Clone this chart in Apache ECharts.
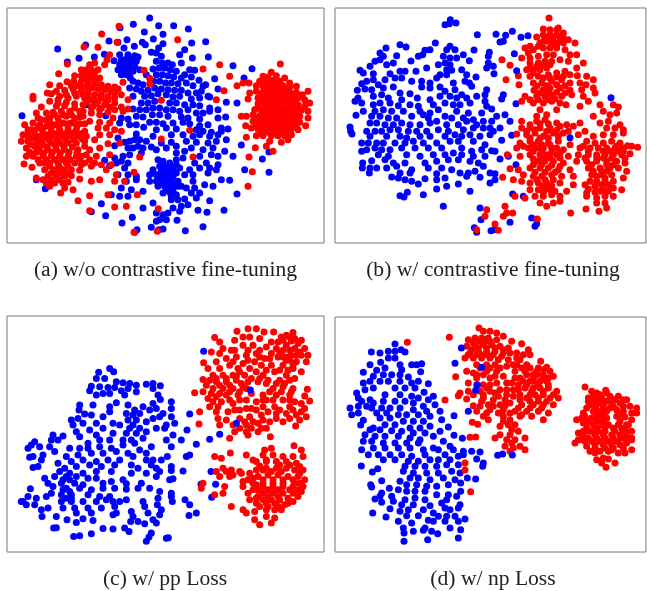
<!DOCTYPE html>
<html><head><meta charset="utf-8">
<script src="https://cdn.jsdelivr.net/npm/echarts@6/dist/echarts.min.js"></script>
<style>html,body{margin:0;padding:0;background:#fff}#c{width:647px;height:591px}</style>
</head><body><div id="c"></div>
<script>
const captions=["(a) w/o contrastive fine-tuning","(b) w/ contrastive fine-tuning","(c) w/ pp Loss","(d) w/ np Loss"];
const aBlue=[[450,55],[401,74],[477,78],[522,78],[566,88],[361,84],[434,97],[490,104],[461,118],[382,120],[328,124],[355,128],[258,136],[174,148],[618,126],[576,130],[428,128],[437,135],[490,132],[477,145],[373,145],[404,140],[555,150],[540,165],[626,172],[578,175],[284,172],[314,164],[238,176],[203,187],[343,183],[360,165],[385,165],[405,168],[470,160],[455,158],[485,170],[415,172],[365,180],[380,178],[395,180],[410,185],[360,195],[375,195],[390,195],[405,200],[355,210],[370,210],[385,210],[400,215],[365,225],[380,225],[392,235],[420,210],[470,185],[488,190],[505,190],[518,195],[545,190],[460,208],[478,205],[495,205],[512,210],[530,215],[570,210],[585,212],[555,225],[700,198],[757,207],[440,225],[470,225],[488,225],[505,228],[522,232],[545,235],[575,232],[598,242],[645,237],[618,255],[733,235],[400,245],[415,250],[430,255],[462,245],[480,245],[498,250],[515,250],[535,252],[560,250],[580,258],[610,260],[655,268],[390,265],[410,268],[425,275],[445,272],[465,265],[485,268],[505,270],[525,272],[545,272],[565,280],[590,280],[605,275],[625,290],[400,290],[435,290],[455,288],[475,282],[500,285],[520,292],[540,290],[575,298],[600,295],[630,292],[680,308],[712,310],[425,310],[445,310],[465,305],[510,310],[530,310],[555,315],[580,315],[600,318],[630,325],[655,330],[260,315],[400,328],[420,330],[440,330],[460,325],[480,325],[500,330],[520,330],[540,335],[565,330],[590,340],[610,340],[630,335],[318,348],[365,355],[385,358],[410,350],[430,352],[458,345],[480,345],[505,350],[545,352],[565,355],[600,358],[655,355],[678,352],[360,370],[390,375],[410,375],[450,368],[470,368],[490,372],[520,370],[550,368],[570,372],[600,378],[625,375],[665,385],[432,383],[470,390],[500,385],[530,388],[590,390],[610,395],[635,398],[655,405],[685,388],[355,415],[410,403],[460,410],[515,405],[550,405],[580,410],[600,405],[630,410],[665,395],[345,438],[375,428],[390,425],[405,420],[420,420],[440,425],[485,430],[515,428],[560,425],[590,428],[625,430],[650,425],[680,420],[725,436],[385,445],[400,445],[415,440],[430,445],[455,442],[470,450],[500,445],[530,440],[575,445],[610,450],[640,445],[675,455],[345,475],[370,470],[390,465],[425,460],[530,460],[555,455],[600,470],[635,465],[655,470],[700,470],[808,457],[788,478],[315,482],[350,490],[365,485],[385,490],[475,480],[490,485],[510,490],[530,480],[550,475],[585,490],[620,490],[655,495],[330,498],[375,505],[460,510],[480,500],[500,505],[520,510],[540,505],[570,510],[600,505],[630,505],[650,510],[735,510],[808,518],[355,525],[385,525],[410,530],[450,525],[470,525],[490,525],[510,525],[530,520],[555,525],[580,525],[625,520],[380,545],[410,540],[450,545],[470,545],[495,545],[515,540],[535,545],[580,545],[615,555],[665,540],[690,542],[365,565],[395,570],[430,575],[475,560],[495,560],[515,560],[535,560],[560,565],[585,565],[640,560],[335,585],[360,590],[490,580],[510,578],[530,585],[575,580],[600,580],[712,583],[385,590],[460,610],[515,600],[535,600],[555,598],[590,595],[630,603],[305,612],[430,625],[520,625],[545,620],[565,615],[275,636],[318,648],[470,640],[490,645],[505,640],[540,635],[595,632],[622,638],[673,632],[480,660],[500,660],[532,662],[398,653],[470,665],[367,670],[455,683],[478,690],[490,688],[610,681],[557,693],[412,690],[405,698],[67,348],[110,540],[137,567],[370,188],[385,188],[398,190],[365,203],[380,203],[395,205],[375,218],[390,220],[485,515],[500,515],[515,515],[480,535],[500,535],[520,530],[485,552],[505,552],[525,552],[500,570],[520,570],[490,495],[510,498],[530,495],[545,560],[515,590]];
const aRed=[[358,80],[306,103],[534,120],[352,128],[295,143],[253,142],[203,193],[660,195],[610,208],[690,230],[842,193],[330,165],[322,180],[315,195],[285,190],[270,195],[245,210],[260,210],[275,210],[295,210],[225,228],[245,228],[262,228],[282,228],[300,235],[177,222],[202,246],[222,245],[245,245],[265,245],[285,250],[305,255],[325,260],[345,262],[150,255],[180,258],[258,262],[275,265],[295,268],[315,270],[335,275],[355,268],[370,248],[143,280],[155,282],[170,275],[195,272],[220,268],[245,275],[265,280],[285,285],[305,285],[325,290],[345,295],[365,285],[100,290],[100,298],[150,305],[175,300],[205,295],[230,290],[255,295],[275,300],[295,305],[320,305],[345,310],[385,300],[125,322],[170,320],[195,318],[225,312],[250,315],[280,320],[305,325],[330,322],[365,322],[385,328],[110,340],[140,340],[160,338],[185,335],[210,335],[240,335],[275,340],[300,345],[340,355],[370,335],[75,375],[100,370],[125,360],[150,355],[175,355],[200,350],[225,355],[250,350],[270,365],[300,368],[330,370],[95,390],[115,385],[140,380],[165,375],[190,370],[215,370],[240,372],[295,385],[320,385],[345,390],[365,395],[70,405],[85,405],[105,405],[130,400],[155,395],[180,390],[205,390],[230,390],[255,395],[300,405],[330,405],[65,425],[85,425],[110,420],[135,415],[160,410],[185,410],[210,410],[235,410],[260,410],[285,420],[325,432],[80,445],[105,440],[130,435],[155,430],[180,430],[205,430],[230,430],[255,425],[120,455],[145,450],[170,450],[195,450],[235,450],[300,445],[100,470],[130,470],[155,468],[180,470],[205,470],[230,470],[260,465],[290,470],[330,465],[73,493],[97,503],[120,490],[150,490],[175,490],[200,490],[225,490],[255,490],[285,490],[305,495],[335,495],[135,510],[165,510],[190,510],[215,510],[240,512],[275,500],[320,510],[110,535],[145,530],[170,530],[195,530],[215,528],[240,538],[275,545],[300,540],[345,545],[350,525],[140,550],[165,550],[190,550],[205,548],[375,545],[150,560],[195,565],[220,570],[183,580],[270,588],[325,585],[235,603],[413,585],[345,622],[380,620],[270,633],[476,627],[403,518],[420,472],[485,418],[570,392],[580,472],[485,302],[433,212],[450,236],[450,252],[403,698],[473,695],[815,218],[790,230],[805,232],[830,228],[855,235],[780,245],[800,245],[820,242],[840,245],[870,250],[712,258],[730,250],[748,250],[770,258],[790,260],[810,258],[830,258],[850,258],[870,262],[890,260],[750,280],[770,275],[790,278],[810,275],[830,275],[850,275],[870,278],[890,278],[908,285],[925,275],[745,298],[775,295],[795,295],[815,295],[835,295],[855,295],[875,295],[895,295],[915,300],[930,310],[775,312],[795,312],[815,312],[835,312],[855,312],[875,312],[895,315],[915,320],[765,330],[785,330],[805,330],[825,330],[845,330],[865,330],[885,330],[905,332],[925,335],[725,350],[740,350],[760,345],[780,348],[800,348],[820,348],[840,348],[860,348],[880,348],[900,350],[925,355],[738,378],[760,365],[780,368],[800,368],[820,368],[840,368],[860,368],[880,368],[900,368],[918,378],[755,385],[775,388],[795,388],[815,388],[835,388],[855,388],[875,388],[895,390],[740,413],[770,408],[790,408],[815,408],[835,408],[855,408],[875,405],[810,425],[845,428],[865,420],[767,444],[800,440],[820,455],[748,472],[758,516],[745,560],[673,273],[650,300],[360,430],[145,405],[170,402],[195,402],[220,400],[245,402],[125,428],[148,422],[172,420],[198,420],[222,420],[248,418],[118,445],[142,442],[168,440],[192,440],[218,442],[132,460],[158,458],[182,460],[208,458],[232,460],[140,480],[165,480],[190,480],[212,480],[240,478],[150,500],[178,500],[205,500],[155,520],[180,520],[205,520],[130,540],[155,540],[180,540],[265,255],[285,262],[305,262],[325,268],[345,280],[262,290],[282,295],[305,295],[325,300],[262,308],[290,312],[315,315],[240,258],[255,235],[272,235],[290,240],[252,218],[268,218],[285,218],[785,285],[805,285],[825,285],[845,285],[865,285],[885,287],[785,304],[805,304],[825,304],[845,304],[865,304],[885,304],[775,322],[795,322],[815,322],[835,322],[855,322],[875,322],[895,322],[790,340],[810,340],[830,340],[850,340],[870,340],[890,340],[770,358],[790,358],[810,358],[830,358],[850,358],[870,358],[890,358],[770,378],[790,378],[810,378],[830,378],[850,378],[870,378],[890,378],[785,398],[805,398],[825,398],[845,398],[865,398],[800,268],[820,266],[840,266],[860,268],[810,250],[830,250],[115,355],[140,360],[165,345],[190,345],[215,345],[240,352],[120,375],[150,368],[178,368],[205,372],[228,372],[255,372],[85,390],[105,392],[128,390],[155,382],[178,380],[205,380],[232,380],[85,415],[100,415],[120,410],[95,435],[115,432],[90,458],[110,458],[80,470],[115,480],[135,490],[255,440],[270,450],[245,470],[270,480],[245,495],[175,310],[200,308],[225,325],[250,335],[275,325],[200,285],[225,280],[250,285],[180,290],[300,330],[325,338],[345,330],[235,258],[215,258]];
const bBlue=[[361,60],[345,75],[358,72],[378,70],[442,105],[498,104],[527,107],[547,95],[573,113],[594,108],[510,127],[520,125],[316,130],[210,135],[228,142],[168,145],[360,140],[350,150],[375,150],[432,151],[478,158],[553,162],[150,160],[160,170],[150,180],[135,185],[120,200],[200,168],[190,190],[170,195],[265,170],[285,152],[300,150],[278,165],[243,184],[340,170],[360,175],[380,175],[400,165],[418,183],[475,170],[475,190],[490,200],[470,205],[345,190],[360,195],[325,195],[290,205],[90,212],[100,220],[350,210],[365,212],[395,210],[492,222],[130,222],[180,222],[210,215],[225,215],[258,215],[330,225],[350,225],[410,225],[438,232],[95,252],[110,245],[130,240],[145,255],[165,240],[195,235],[215,235],[245,245],[275,245],[320,235],[300,250],[370,250],[405,245],[418,250],[425,260],[82,272],[105,268],[125,270],[160,265],[190,262],[210,280],[240,282],[275,262],[300,265],[330,262],[345,275],[375,270],[395,285],[470,270],[465,285],[84,295],[75,305],[95,310],[130,290],[155,285],[175,295],[215,300],[262,295],[300,300],[330,290],[360,290],[380,295],[410,295],[440,290],[520,285],[515,298],[558,312],[100,335],[78,347],[130,315],[150,310],[180,310],[205,318],[240,315],[310,315],[345,310],[370,315],[390,315],[420,310],[465,305],[470,320],[135,335],[160,330],[185,335],[220,335],[265,320],[270,335],[300,340],[325,330],[380,335],[415,340],[455,340],[485,328],[525,345],[125,350],[150,350],[175,355],[200,355],[245,350],[280,345],[295,355],[345,350],[365,355],[400,355],[430,360],[460,365],[500,350],[485,365],[540,365],[60,382],[62,395],[66,403],[120,370],[140,370],[165,375],[190,375],[215,370],[240,375],[270,375],[300,370],[320,365],[350,375],[385,375],[410,365],[440,375],[480,385],[510,385],[110,395],[135,395],[155,395],[180,390],[205,390],[235,395],[260,395],[290,395],[325,390],[355,395],[400,390],[430,385],[460,385],[490,395],[545,407],[120,410],[170,410],[210,410],[230,415],[270,410],[300,410],[345,410],[375,405],[395,410],[420,405],[450,410],[480,405],[515,422],[95,430],[115,430],[140,430],[160,430],[195,430],[225,430],[250,425],[280,430],[320,430],[360,425],[385,425],[430,425],[465,435],[95,455],[110,450],[135,445],[155,450],[180,450],[215,445],[255,445],[295,445],[335,445],[370,460],[395,445],[425,455],[455,450],[485,453],[495,455],[535,470],[145,465],[175,470],[230,465],[270,470],[310,465],[345,465],[395,465],[430,470],[465,470],[510,478],[98,490],[125,483],[165,480],[190,490],[225,490],[285,490],[320,485],[355,480],[385,480],[420,485],[445,490],[97,505],[120,505],[140,505],[170,505],[200,500],[245,510],[295,505],[335,505],[365,510],[460,500],[558,495],[118,520],[210,520],[240,520],[320,522],[390,520],[415,520],[435,515],[480,520],[495,522],[185,532],[205,535],[225,540],[285,537],[320,540],[345,535],[410,530],[450,533],[480,550],[495,540],[265,553],[245,545],[385,553],[320,568],[350,560],[420,575],[232,578],[280,585],[210,588],[222,592],[548,583],[580,590],[340,620],[450,625],[453,660],[540,668],[605,655],[620,672],[615,680],[433,684],[440,698],[483,693],[492,690]];
const bRed=[[657,55],[516,180],[540,197],[528,240],[532,465],[540,507],[518,533],[555,590],[585,595],[722,640],[768,628],[807,635],[923,443],[640,88],[660,90],[685,85],[700,100],[620,112],[640,105],[660,105],[680,105],[700,115],[715,120],[630,130],[650,125],[670,125],[690,125],[735,130],[585,145],[610,150],[640,145],[660,145],[680,145],[705,150],[595,160],[720,165],[650,165],[670,165],[575,175],[600,175],[625,170],[740,165],[600,190],[625,190],[645,185],[665,185],[690,180],[715,185],[760,190],[590,210],[610,210],[630,210],[650,205],[740,205],[565,228],[600,230],[625,230],[655,225],[680,220],[705,215],[720,225],[770,230],[790,240],[742,228],[567,255],[610,250],[635,250],[665,245],[695,240],[720,250],[750,250],[768,255],[612,272],[640,270],[660,265],[690,265],[720,272],[755,270],[790,265],[795,280],[585,290],[620,290],[645,290],[665,285],[695,290],[725,285],[760,290],[575,305],[610,310],[640,310],[665,305],[690,310],[708,315],[750,320],[775,305],[810,315],[850,315],[865,322],[630,330],[680,330],[820,335],[860,340],[620,350],[650,345],[790,350],[840,345],[575,365],[620,365],[645,360],[680,370],[710,375],[750,370],[810,370],[835,365],[870,375],[575,385],[600,385],[630,385],[660,385],[690,380],[730,380],[765,395],[830,385],[855,385],[880,390],[560,403],[590,405],[615,400],[640,410],[670,400],[700,400],[745,405],[790,410],[820,405],[850,405],[880,400],[570,430],[600,425],[625,425],[655,430],[685,425],[720,435],[770,425],[795,430],[820,430],[845,425],[870,430],[893,438],[560,445],[595,445],[620,445],[640,445],[665,445],[700,450],[750,445],[780,445],[805,445],[830,445],[855,445],[880,445],[905,440],[570,470],[600,465],[630,465],[650,465],[680,465],[715,470],[745,465],[775,465],[800,465],[825,465],[850,465],[875,465],[900,462],[620,485],[645,485],[670,485],[700,490],[740,485],[770,485],[800,485],[830,485],[860,485],[885,490],[565,510],[600,505],[630,505],[655,505],[685,510],[720,510],[775,505],[810,505],[840,505],[865,505],[890,515],[550,540],[580,525],[610,530],[635,530],[665,525],[695,530],[730,530],[785,525],[815,525],[845,525],[880,535],[575,545],[600,550],[625,550],[650,550],[690,550],[730,555],[765,555],[800,545],[825,545],[850,545],[600,570],[625,570],[650,568],[675,575],[710,575],[770,580],[795,578],[820,570],[850,565],[875,570],[615,590],[640,590],[665,585],[690,590],[770,590],[800,595],[825,590],[850,590],[630,610],[650,620],[670,610],[690,605],[800,610],[825,610],[830,625],[470,630],[465,650],[525,620],[520,650],[530,640],[548,640],[495,673],[505,692],[440,690],[622,658],[820,455],[840,455],[865,455],[845,475],[820,475],[800,475],[830,495],[850,495],[815,515],[830,515],[825,535],[835,555],[815,555],[655,115],[670,112],[690,112],[665,135],[680,135],[650,115],[680,90],[640,125],[700,130],[600,140],[625,140],[600,205],[620,200],[640,195],[660,195],[610,220],[640,235],[660,235],[680,232],[700,230],[620,260],[650,258],[680,255],[705,258],[630,280],[655,280],[680,278],[705,280],[600,300],[625,300],[650,300],[675,298],[600,375],[630,372],[655,372],[590,395],[615,390],[650,395],[680,392],[600,415],[630,415],[655,415],[685,410],[715,395],[580,440],[610,435],[635,435],[660,435],[680,445],[610,455],[635,455],[665,458],[690,460],[610,478],[635,475],[660,475],[690,475],[610,495],[635,495],[665,497],[690,500],[615,518],[645,518],[675,518],[620,540],[645,540],[670,540],[640,560],[665,558],[640,578],[665,575],[760,440],[775,455],[765,475],[785,495],[790,515],[800,530],[780,545],[795,560],[775,568],[810,575],[835,575],[860,440],[880,455],[885,475]];
const bBlueTop=[[843,294],[720,414],[560,213]];
const cBlue=[[297,216],[330,205],[342,215],[290,235],[315,235],[350,245],[370,248],[390,250],[410,255],[440,252],[460,250],[482,257],[275,258],[300,260],[325,262],[345,262],[365,272],[385,265],[410,275],[460,265],[270,272],[290,285],[310,280],[330,280],[375,285],[475,285],[482,298],[350,308],[330,320],[280,315],[240,315],[515,305],[460,310],[470,325],[430,320],[385,315],[238,330],[330,335],[405,330],[420,340],[450,330],[515,325],[255,342],[275,345],[380,340],[400,345],[490,340],[515,350],[480,350],[570,342],[215,360],[235,355],[310,350],[385,360],[410,360],[460,355],[250,370],[290,370],[340,370],[360,375],[400,375],[440,365],[525,370],[500,375],[220,375],[310,385],[270,390],[390,385],[420,385],[470,385],[495,385],[520,405],[562,390],[160,405],[230,395],[240,410],[290,405],[340,400],[380,400],[410,400],[440,395],[545,420],[190,408],[155,420],[105,425],[95,435],[85,445],[175,420],[265,430],[300,420],[330,420],[370,420],[395,420],[430,415],[500,420],[590,433],[630,418],[120,440],[150,440],[210,445],[240,445],[265,445],[300,440],[335,445],[370,435],[405,430],[455,440],[515,440],[130,465],[90,472],[100,470],[165,455],[200,470],[235,465],[275,460],[310,460],[350,455],[385,460],[420,450],[440,460],[503,470],[560,470],[570,465],[125,480],[175,490],[215,485],[250,480],[290,485],[325,480],[360,480],[400,470],[440,480],[460,480],[485,480],[100,503],[115,500],[195,505],[230,500],[270,495],[305,500],[345,495],[395,495],[455,495],[515,500],[180,515],[210,520],[250,520],[290,515],[335,515],[415,505],[470,505],[480,515],[550,513],[634,515],[135,535],[165,530],[200,530],[230,530],[265,535],[290,535],[370,540],[395,520],[440,520],[470,530],[515,512],[520,537],[145,550],[185,550],[225,550],[250,555],[310,550],[335,545],[380,552],[425,550],[510,540],[604,553],[648,553],[92,567],[160,560],[200,565],[240,565],[275,570],[310,565],[345,565],[415,565],[450,565],[480,575],[515,580],[155,580],[185,585],[215,585],[265,585],[300,590],[330,590],[380,568],[70,605],[85,590],[110,595],[140,590],[380,600],[360,605],[430,605],[475,595],[515,590],[518,605],[636,592],[556,600],[65,605],[80,615],[105,615],[185,605],[215,605],[250,605],[290,605],[320,600],[340,605],[435,620],[473,615],[570,615],[125,630],[145,625],[190,625],[225,625],[265,625],[305,625],[345,620],[395,635],[485,630],[590,640],[127,650],[170,650],[230,640],[275,640],[350,640],[400,650],[445,640],[480,645],[568,647],[202,660],[250,657],[280,662],[340,645],[393,665],[460,660],[470,670],[230,668],[170,684],[162,685],[310,686],[340,688],[375,685],[388,695],[415,665],[435,672],[222,710],[240,708],[275,702],[455,700],[448,712],[440,725],[500,716],[506,714],[190,540],[210,540],[190,570],[210,575],[200,595],[215,595]];
const cRed=[[745,85],[770,85],[793,95],[712,93],[822,95],[880,97],[860,105],[845,110],[905,120],[645,112],[660,125],[705,120],[730,110],[750,110],[780,115],[815,125],[835,125],[875,122],[895,130],[670,145],[695,150],[730,135],[760,135],[800,140],[830,145],[860,135],[885,145],[915,145],[925,165],[635,155],[660,160],[710,170],[740,165],[770,160],[815,160],[890,165],[905,165],[650,185],[680,175],[730,190],[765,185],[795,175],[835,170],[870,180],[890,185],[920,185],[612,188],[625,205],[660,205],[690,195],[715,205],[750,205],[785,195],[815,195],[850,195],[880,205],[905,215],[610,238],[640,225],[670,225],[700,225],[735,225],[790,225],[825,215],[860,225],[885,235],[620,255],[650,245],[680,245],[710,240],[745,245],[775,245],[805,240],[840,240],[870,240],[585,278],[610,275],[640,265],[670,265],[700,265],[730,260],[820,265],[850,260],[880,265],[923,267],[625,295],[650,290],[680,285],[715,285],[755,280],[790,285],[830,285],[870,285],[915,288],[930,303],[600,335],[630,320],[655,320],[700,310],[740,300],[770,305],[800,300],[850,300],[885,305],[905,310],[655,355],[685,335],[720,330],[755,325],[790,320],[825,320],[870,320],[915,325],[680,360],[720,355],[750,350],[785,345],[830,340],[860,340],[890,345],[920,350],[598,372],[660,375],[700,375],[740,375],[775,370],[810,365],[850,365],[888,378],[690,415],[705,395],[740,395],[775,395],[800,385],[812,410],[745,405],[883,437],[795,450],[815,445],[905,450],[692,459],[740,465],[645,470],[665,475],[790,465],[820,465],[850,470],[880,470],[910,470],[770,485],[800,485],[830,485],[860,485],[890,490],[650,515],[670,505],[695,510],[725,520],[770,510],[800,505],[830,505],[860,505],[885,510],[910,510],[660,530],[700,525],[745,540],[775,530],[805,525],[835,525],[865,530],[895,530],[915,540],[610,550],[605,565],[675,560],[730,560],[760,550],[790,550],[820,550],[850,550],[885,550],[910,560],[645,585],[670,580],[745,580],[775,570],[805,570],[835,570],[870,570],[905,575],[775,590],[805,590],[835,590],[865,595],[895,590],[695,620],[730,630],[770,610],[800,610],[825,610],[855,615],[880,605],[740,640],[765,635],[800,630],[825,630],[845,630],[765,660],[780,675],[800,650],[825,655],[815,670],[850,120],[870,110],[885,115],[850,150],[870,150],[900,155],[875,165],[860,170],[880,195],[860,180],[790,510],[815,515],[845,515],[790,540],[820,540],[850,540],[880,540],[790,560],[820,560],[850,560],[880,560],[760,570],[790,580],[820,580],[850,580],[880,580],[790,600],[815,600],[840,600],[865,610],[650,235],[680,235],[710,228],[630,240],[660,255],[690,255],[725,250],[755,235],[780,235],[800,250],[830,250],[855,250],[635,280],[660,280],[690,275],[720,275],[740,265],[810,275],[845,275],[875,275],[640,305],[665,305],[690,300],[720,300],[790,300],[820,300],[870,300],[650,335],[705,330],[740,325],[770,330],[805,335],[840,330],[880,330],[905,335],[735,365],[760,365],[790,360],[830,355],[870,355],[900,360],[720,385],[755,385],[785,385],[705,150],[745,150],[780,150],[840,155],[700,185],[745,180],[780,170],[810,175],[850,170],[720,215],[770,215],[800,210],[840,210],[865,210],[760,480],[780,498],[750,520],[760,535],[730,545],[770,555],[800,480],[840,495],[870,495],[900,500],[900,520],[900,550],[895,570],[780,620],[805,620],[835,620],[750,600],[770,595],[720,515],[690,530],[680,515]];
const cBlueTop=[[660,403],[710,370],[752,270],[612,153]];
const dBlue=[[195,133],[124,157],[150,160],[175,155],[195,155],[213,150],[225,157],[175,175],[195,175],[152,188],[120,195],[210,195],[245,195],[260,195],[275,192],[140,212],[165,205],[215,210],[100,218],[272,216],[130,230],[160,225],[185,225],[210,225],[235,232],[120,245],[150,245],[175,245],[210,245],[245,250],[265,245],[295,252],[100,250],[130,265],[195,265],[225,265],[255,265],[282,278],[105,270],[80,280],[165,285],[210,285],[245,290],[295,300],[310,290],[85,295],[120,300],[195,305],[225,305],[265,295],[315,315],[95,305],[85,320],[110,320],[130,310],[160,305],[250,310],[280,320],[330,335],[60,325],[125,325],[155,325],[180,325],[210,325],[250,330],[290,335],[65,345],[85,340],[140,340],[170,340],[205,345],[230,345],[265,345],[300,350],[335,360],[100,362],[150,355],[180,355],[220,365],[250,365],[280,365],[92,376],[130,385],[165,375],[195,375],[240,385],[270,385],[300,380],[355,382],[120,390],[150,390],[185,393],[215,395],[250,400],[285,400],[330,395],[105,405],[135,410],[165,410],[205,410],[240,415],[270,420],[310,410],[100,425],[125,425],[160,430],[195,430],[230,430],[265,430],[340,425],[95,450],[130,445],[165,445],[205,445],[240,445],[280,450],[310,445],[325,450],[360,440],[115,465],[145,465],[180,465],[215,465],[245,470],[285,465],[345,465],[370,450],[400,455],[425,455],[450,457],[160,480],[195,480],[235,485],[265,485],[300,480],[325,480],[360,480],[385,470],[400,465],[440,478],[94,499],[225,500],[255,500],[285,500],[320,500],[350,495],[385,495],[460,490],[458,500],[143,507],[127,517],[220,515],[250,520],[290,520],[325,520],[365,515],[390,520],[155,543],[210,545],[240,535],[265,535],[300,540],[340,535],[375,540],[412,535],[437,538],[122,555],[125,562],[205,570],[178,566],[230,555],[260,555],[290,560],[320,560],[355,555],[392,550],[392,575],[155,580],[150,590],[230,575],[255,575],[285,575],[320,585],[355,585],[380,590],[135,598],[155,608],[185,590],[190,605],[225,600],[255,595],[285,600],[350,600],[180,627],[215,615],[250,615],[300,618],[335,610],[390,615],[385,625],[128,640],[210,635],[235,630],[280,630],[310,640],[345,625],[360,630],[168,652],[205,665],[230,648],[265,648],[295,662],[325,650],[350,650],[375,650],[405,658],[220,685],[245,670],[285,685],[310,665],[345,665],[385,665],[360,685],[280,692],[222,700],[250,695],[305,695],[323,702],[392,690],[385,715],[293,720],[222,725],[372,348],[415,335],[372,407],[397,416]];
const dRed=[[232,128],[358,113],[447,85],[460,95],[480,95],[500,100],[520,110],[415,120],[435,115],[455,115],[475,115],[500,120],[545,125],[575,132],[410,140],[435,135],[460,135],[485,135],[510,140],[535,145],[595,150],[420,160],[445,155],[470,155],[495,155],[520,160],[560,160],[600,165],[405,175],[430,175],[455,175],[480,175],[505,180],[535,180],[570,180],[632,185],[440,195],[470,195],[495,195],[530,200],[560,195],[590,195],[650,203],[410,215],[430,220],[470,215],[500,215],[555,215],[585,215],[620,215],[660,215],[377,231],[440,235],[480,235],[520,230],[570,235],[610,235],[640,235],[670,230],[415,250],[460,255],[500,250],[545,250],[590,255],[625,255],[655,255],[415,275],[390,280],[385,288],[450,275],[480,275],[530,270],[565,270],[605,275],[640,275],[680,275],[345,301],[410,298],[460,295],[505,290],[550,290],[590,295],[625,295],[660,295],[685,295],[430,318],[475,315],[510,315],[540,310],[575,315],[610,315],[640,315],[670,315],[440,335],[480,330],[520,330],[555,335],[590,335],[625,335],[655,340],[460,350],[520,350],[570,350],[605,350],[640,360],[427,368],[443,374],[475,360],[510,380],[535,375],[555,375],[420,413],[437,412],[510,405],[495,415],[540,405],[565,395],[585,415],[525,440],[545,430],[570,440],[585,450],[540,455],[405,511],[422,576],[405,490],[765,262],[785,275],[800,280],[827,272],[775,295],[795,295],[815,295],[840,290],[865,290],[890,300],[760,340],[780,315],[800,315],[820,315],[845,310],[870,310],[900,320],[920,325],[740,360],[765,350],[790,335],[810,335],[830,335],[880,335],[920,340],[760,370],[785,355],[810,355],[830,355],[860,350],[885,352],[905,360],[745,400],[770,385],[790,375],[815,375],[835,375],[865,375],[890,375],[735,430],[760,410],[785,395],[805,395],[825,395],[855,395],[880,395],[905,395],[750,420],[775,415],[800,415],[825,415],[850,415],[875,415],[905,420],[770,440],[795,435],[820,435],[845,435],[870,435],[905,450],[780,455],[810,455],[835,455],[865,460],[885,460],[800,480],[820,475],[835,478],[855,490],[815,490],[828,503],[620,225],[640,225],[600,245],[630,245],[650,245],[610,265],[630,265],[655,265],[615,285],[640,285],[670,285],[600,305],[625,305],[650,305],[600,325],[635,325],[480,125],[470,165],[490,165],[455,165],[790,305],[810,305],[830,305],[855,300],[795,325],[820,325],[840,325],[860,330],[800,345],[820,345],[870,345],[800,365],[820,365],[870,365],[800,385],[825,385],[850,385],[875,385],[795,405],[820,405],[845,405],[870,405],[785,425],[810,425],[835,425],[860,425],[890,425],[890,410],[825,445],[850,445],[795,460],[430,130],[450,125],[465,125],[425,150],[445,145],[470,145],[495,145],[520,150],[540,160],[560,175],[580,165],[415,165],[440,165],[515,170],[550,195],[575,205],[600,205],[625,205],[640,210],[450,205],[480,205],[510,205],[590,225],[610,225],[655,235],[440,225],[460,225],[495,230],[555,235],[580,245],[610,245],[565,255],[530,250],[480,255],[440,255],[470,265],[510,270],[550,270],[585,265],[430,285],[460,285],[495,280],[530,285],[570,285],[600,285],[455,305],[490,300],[525,300],[570,300],[450,320],[490,320],[525,318],[565,325],[470,340],[505,340],[540,340],[575,345],[540,360],[520,365],[545,390],[530,420],[555,420],[550,445],[770,325],[755,355],[775,365],[770,370],[760,395],[775,395],[745,420],[765,425],[795,445],[845,450],[880,445],[890,395],[895,375],[905,340],[880,320],[850,320],[775,305],[790,290],[810,285],[830,280],[850,300],[880,300],[905,415],[890,430]];
const dBlueTop=[[503,467],[518,463],[547,466],[394,145],[375,191],[455,203],[442,255],[437,272]];

const panels=[
 {box:[7,8,317,235],  range:[22,973,25,730], blue:aBlue, red:aRed, top:[]},
 {box:[335,8,311,235],range:[15,948,25,730], blue:bBlue, red:bRed, top:bBlueTop},
 {box:[7,316,317,236],range:[22,973,47,757], blue:cBlue, red:cRed, top:cBlueTop},
 {box:[335,317,311,235],range:[15,948,52,757], blue:dBlue, red:dRed, top:dBlueTop}
];
const capPos=[[165.5,270],[493,270],[165,579],[493,579]];
const dot=(name,c,i,data)=>({name,type:'scatter',xAxisIndex:i,yAxisIndex:i,data,symbolSize:7,itemStyle:{color:c,opacity:1},silent:true,clip:false});
const option={animation:false,backgroundColor:'#fff',
 title:captions.map((t,i)=>({text:t,left:capPos[i][0],top:capPos[i][1],textAlign:'center',textVerticalAlign:'middle',
   textStyle:{fontFamily:'Liberation Serif',fontSize:21.6,fontWeight:'normal',color:'#222'},padding:0})),
 grid:panels.map(p=>({left:p.box[0],top:p.box[1],width:p.box[2],height:p.box[3],show:true,borderColor:'#777',borderWidth:1,backgroundColor:'#fff'})),
 xAxis:panels.map((p,i)=>({gridIndex:i,type:'value',min:p.range[0],max:p.range[1],show:false})),
 yAxis:panels.map((p,i)=>({gridIndex:i,type:'value',min:p.range[2],max:p.range[3],inverse:true,show:false})),
 series:panels.flatMap((p,i)=>[dot('blue','#0000ff',i,p.blue),dot('red','#ff0000',i,p.red),dot('blue top','#0000ff',i,p.top)])
};
echarts.init(document.getElementById('c'),null,{renderer:'canvas'}).setOption(option);
</script></body></html>
